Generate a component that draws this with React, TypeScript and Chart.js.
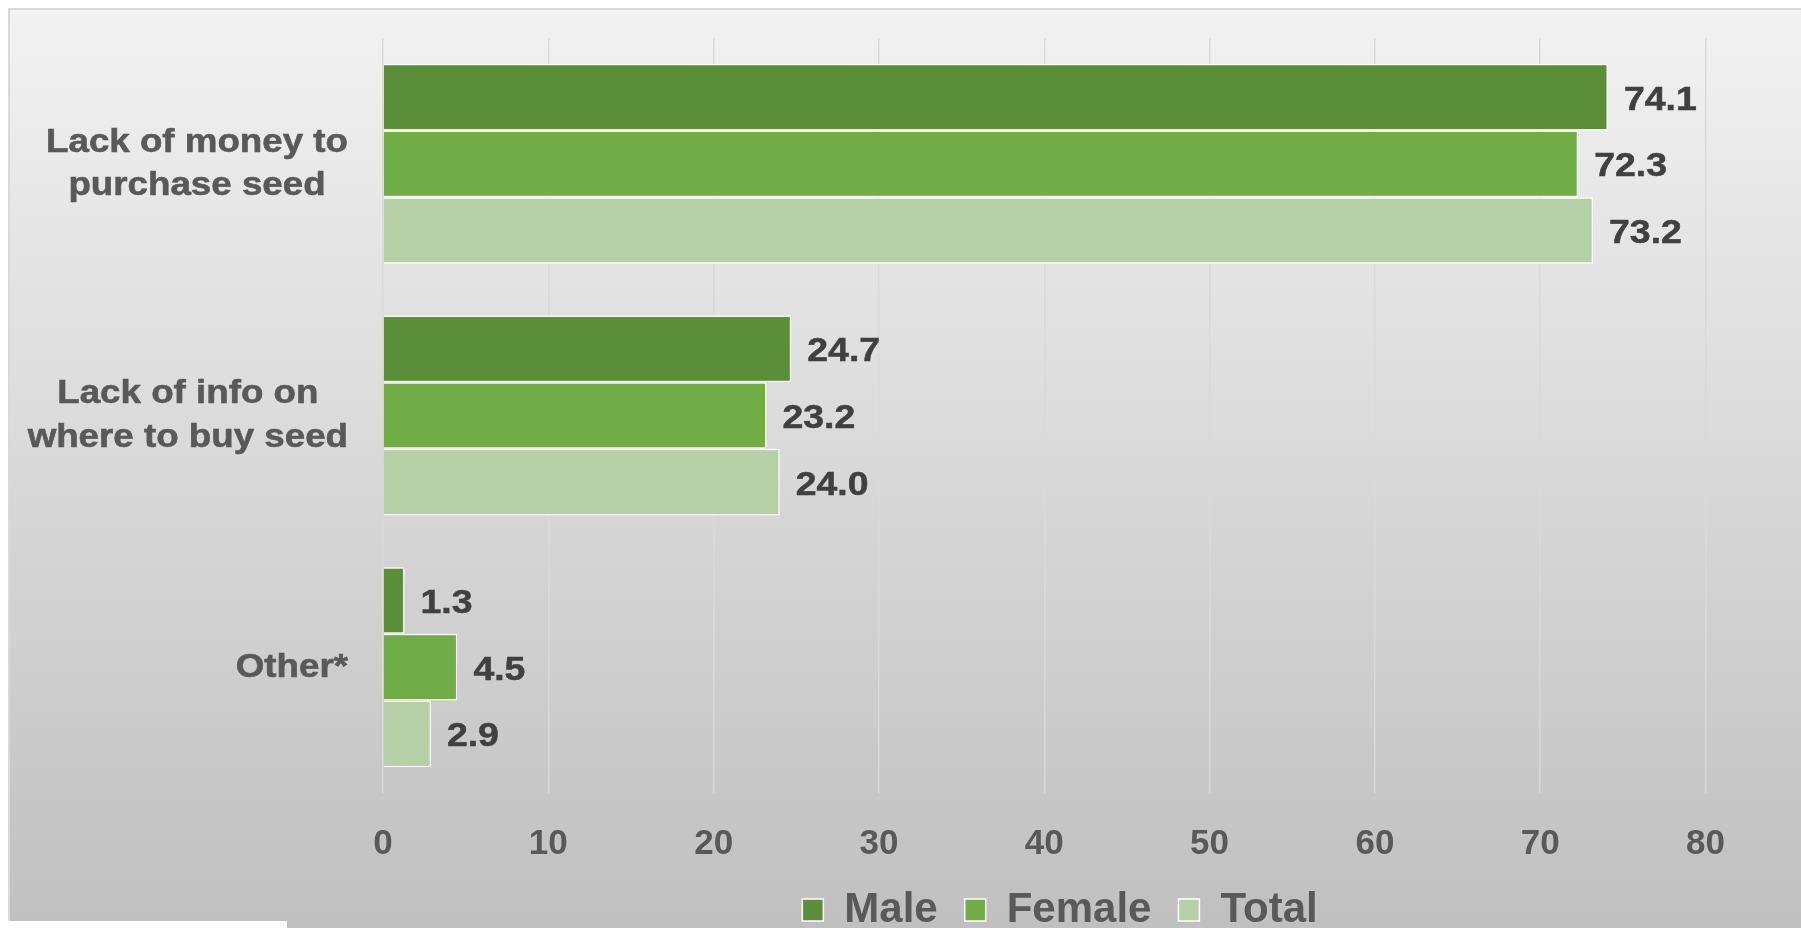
import React, { useEffect, useRef } from "react";
import { Chart, registerables } from "chart.js";

Chart.register(...registerables);

// ---- data ----
const categories: string[][] = [
  ["Lack of money to", "purchase seed"],
  ["Lack of info on", "where to buy seed"],
  ["Other*"],
];
const seriesNames = ["Male", "Female", "Total"];
const maleValues = [74.1, 24.7, 1.3];
const femaleValues = [72.3, 23.2, 4.5];
const totalValues = [73.2, 24.0, 2.9];
const xMin = 0;
const xMax = 80;
const xStep = 10;

const seriesColors = ["#5B8E39", "#70AD47", "#B5CFA7"];

const FONT = "'Liberation Sans', Arial, sans-serif";
const CANVAS_W = 1830;
const CANVAS_H = 933;
const LEGEND_CENTER = 1052;

const backgroundPlugin = {
  id: "bgPlugin",
  beforeDraw(chart: any) {
    const { ctx, width, height } = chart;
    ctx.save();
    const g = ctx.createLinearGradient(0, 0, 0, height);
    g.addColorStop(0, "#f2f2f2");
    g.addColorStop(1, "#bfbfbf");
    ctx.fillStyle = g;
    ctx.fillRect(0, 0, width, height);
    ctx.strokeStyle = "#d9d9d9";
    ctx.lineWidth = 2;
    ctx.strokeRect(1, 1, width - 2, height - 2);
    ctx.restore();
  },
  afterLayout(chart: any) {
    const lg = chart.legend;
    if (lg) {
      const delta = LEGEND_CENTER - (lg.left + lg.right) / 2;
      lg.left += delta;
      lg.right += delta;
    }
  },
};

const labelsPlugin = {
  id: "labelsPlugin",
  afterDatasetsDraw(chart: any) {
    const { ctx } = chart;
    ctx.save();
    ctx.font = `bold 32.5px ${FONT}`;
    ctx.fillStyle = "#404040";
    ctx.strokeStyle = "#404040";
    ctx.lineWidth = 0.5;
    ctx.textAlign = "left";
    ctx.textBaseline = "middle";
    chart.data.datasets.forEach((ds: any, di: number) => {
      const meta = chart.getDatasetMeta(di);
      meta.data.forEach((bar: any, i: number) => {
        const v = ds.data[i] as number;
        ctx.save();
        ctx.translate(bar.x + 16, bar.y + 3.5);
        ctx.scale(1.15, 1);
        ctx.fillText(v.toFixed(1), 0, 0);
        ctx.strokeText(v.toFixed(1), 0, 0);
        ctx.restore();
      });
    });
    ctx.restore();
  },
  afterDraw(chart: any) {
    const { ctx } = chart;
    const yScale = chart.scales.y;
    const sx = 1.08;
    const lineH = 43.3;
    const rightEdge = 340;
    ctx.save();
    ctx.font = `bold 34px ${FONT}`;
    ctx.fillStyle = "#595959";
    ctx.strokeStyle = "#595959";
    ctx.lineWidth = 0.6;
    ctx.textAlign = "center";
    ctx.textBaseline = "middle";
    categories.forEach((lines, i) => {
      const cy = yScale.getPixelForTick(i);
      const blockW = Math.max(...lines.map((l) => ctx.measureText(l).width)) * sx;
      const cx = rightEdge - blockW / 2;
      lines.forEach((line, li) => {
        const y = cy + (li - (lines.length - 1) / 2) * lineH;
        ctx.save();
        ctx.translate(cx, y);
        ctx.scale(sx, 1);
        ctx.fillText(line, 0, 0);
        ctx.strokeText(line, 0, 0);
        ctx.restore();
      });
    });
    ctx.restore();
  },
};

export default function App() {
  const canvasRef = useRef<HTMLCanvasElement | null>(null);

  useEffect(() => {
    document.documentElement.style.overflow = "hidden";
    const canvas = canvasRef.current;
    if (!canvas) return;
    const chart = new Chart(canvas, {
      type: "bar",
      data: {
        labels: categories.map((c) => c.join(" ")),
        datasets: [
          {
            label: seriesNames[0],
            data: maleValues,
            backgroundColor: seriesColors[0],
            borderColor: "#ffffff",
            borderWidth: 1.5,
          },
          {
            label: seriesNames[1],
            data: femaleValues,
            backgroundColor: seriesColors[1],
            borderColor: "#ffffff",
            borderWidth: 1.5,
          },
          {
            label: seriesNames[2],
            data: totalValues,
            backgroundColor: seriesColors[2],
            borderColor: "#ffffff",
            borderWidth: 1.5,
          },
        ],
      },
      options: {
        indexAxis: "y",
        responsive: false,
        maintainAspectRatio: false,
        devicePixelRatio: 1,
        animation: false,
        datasets: {
          bar: {
            categoryPercentage: 0.795,
            barPercentage: 1.0,
            borderSkipped: "start",
          },
        },
        layout: {
          padding: { left: 324.5, right: 132.5, top: 30, bottom: 0 },
        },
        scales: {
          x: {
            type: "linear",
            min: xMin,
            max: xMax,
            ticks: {
              stepSize: xStep,
              padding: 30,
              color: "#595959",
              font: { family: FONT, size: 35, weight: "bold" },
            },
            grid: {
              color: "#d9d9d9",
              lineWidth: 1.5,
              drawTicks: false,
            },
            border: { display: false },
            afterFit: (scale: any) => {
              scale.height = 69;
            },
          },
          y: {
            type: "category",
            ticks: { display: false },
            grid: { display: false, drawTicks: false },
            border: { display: false },
            afterFit: (scale: any) => {
              scale.width = 50.5;
            },
          },
        },
        plugins: {
          legend: {
            display: true,
            position: "bottom",
            align: "center",
            labels: {
              boxWidth: 21,
              boxHeight: 22,
              padding: 27,
              color: "#595959",
              font: { family: FONT, size: 42, weight: "bold" },
            },
          },
          tooltip: { enabled: false },
          title: { display: false },
        },
      },
      plugins: [backgroundPlugin, labelsPlugin],
    });
    return () => {
      chart.destroy();
    };
  }, []);

  return (
    <>
      <div
        style={{
          position: "fixed",
          left: 8,
          top: 8,
          right: 0,
          bottom: 0,
          overflow: "hidden",
        }}
      >
        <canvas
          ref={canvasRef}
          width={CANVAS_W}
          height={CANVAS_H}
          style={{ display: "block", width: CANVAS_W, height: CANVAS_H }}
        />
      </div>
      <div
        style={{
          position: "fixed",
          left: 0,
          top: 921,
          width: 287,
          height: 7,
          background: "#ffffff",
        }}
      />
    </>
  );
}
